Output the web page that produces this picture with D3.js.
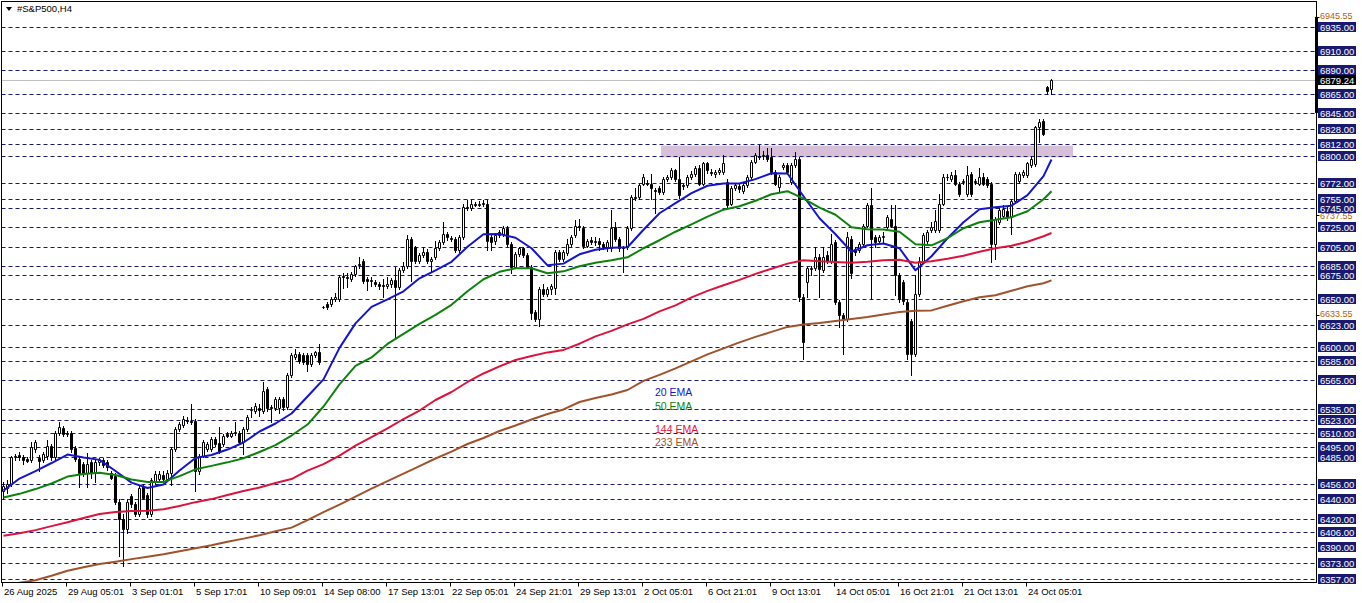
<!DOCTYPE html>
<html><head><meta charset="utf-8">
<script src="https://cdn.jsdelivr.net/npm/d3@7"></script>
<style>html,body{margin:0;padding:0;background:#fff;}svg{display:block;font-family:"Liberation Sans",Arial,sans-serif;}</style>
</head><body><svg id="c" width="1362" height="603"></svg>
<script>
// ---------- DATA ----------
const title = "#S&P500,H4";
const opens = [6449,6452,6456,6484,6487,6485,6482,6481,6493,6483,6481,6486,6496,6484,6510,6515,6509,6510,6494,6482,6477,6468,6479,6468,6479,6481,6479,6468,6465,6437,6420,6409,6444,6435,6425,6454,6445,6425,6458,6461,6466,6461,6468,6493,6514,6518,6523,6522,6522,6470,6486,6493,6493,6503,6499,6498,6509,6507,6510,6510,6500,6514,6534,6533,6536,6533,6556,6537,6536,6536,6545,6537,6570,6589,6592,6591,6591,6582,6591,6594,6642,6645,6645,6650,6650,6674,6673,6671,6676,6686,6690,6671,6669,6668,6666,6665,6664,6666,6670,6663,6680,6685,6713,6704,6690,6696,6699,6690,6694,6703,6710,6718,6714,6713,6701,6715,6746,6745,6750,6749,6750,6750,6715,6711,6717,6718,6724,6708,6684,6697,6703,6696,6684,6636,6629,6661,6655,6661,6662,6699,6692,6698,6708,6717,6727,6724,6706,6712,6710,6711,6708,6705,6703,6725,6713,6704,6704,6724,6757,6757,6771,6772,6771,6764,6766,6762,6776,6778,6785,6776,6769,6769,6778,6781,6787,6771,6792,6783,6781,6783,6783,6773,6750,6766,6768,6763,6769,6778,6794,6800,6800,6801,6799,6783,6767,6788,6790,6773,6790,6797,6652,6668,6681,6683,6694,6680,6696,6690,6710,6647,6633,6629,6713,6702,6701,6708,6727,6749,6715,6711,6715,6725,6734,6727,6675,6668,6647,6627,6592,6655,6690,6711,6722,6722,6722,6750,6778,6776,6780,6771,6773,6760,6781,6774,6771,6778,6776,6771,6708,6731,6737,6742,6736,6753,6774,6780,6780,6790,6791,6830,6836,6872,6870];
const highs = [6458,6460,6486,6488,6490,6487,6484,6500,6502,6487,6490,6502,6498,6512,6521,6517,6512,6512,6496,6484,6479,6489,6481,6481,6483,6483,6481,6470,6468,6440,6425,6440,6446,6437,6455,6456,6447,6462,6470,6470,6470,6471,6495,6516,6521,6527,6526,6540,6524,6488,6502,6500,6505,6505,6516,6509,6511,6512,6521,6512,6516,6528,6537,6541,6540,6563,6558,6539,6547,6547,6547,6572,6593,6598,6594,6593,6593,6593,6596,6603,6643,6647,6652,6656,6675,6677,6677,6678,6686,6694,6692,6673,6673,6670,6668,6671,6673,6672,6684,6682,6689,6717,6715,6706,6698,6704,6702,6694,6711,6712,6731,6720,6716,6715,6717,6750,6754,6754,6752,6753,6754,6754,6717,6719,6722,6727,6727,6710,6699,6705,6705,6698,6686,6638,6663,6666,6663,6666,6701,6701,6701,6713,6717,6733,6734,6727,6713,6715,6715,6714,6710,6712,6743,6731,6715,6706,6726,6759,6766,6771,6781,6775,6781,6766,6768,6778,6780,6787,6786,6799,6771,6780,6784,6789,6790,6794,6794,6786,6785,6787,6801,6776,6768,6771,6771,6772,6780,6796,6803,6811,6805,6808,6808,6785,6780,6792,6792,6792,6804,6799,6655,6684,6685,6704,6697,6704,6700,6718,6712,6649,6635,6720,6716,6704,6710,6729,6751,6766,6717,6717,6720,6738,6748,6748,6677,6670,6649,6629,6675,6694,6719,6722,6731,6743,6760,6781,6781,6783,6785,6773,6776,6789,6783,6776,6787,6782,6778,6773,6736,6745,6748,6746,6755,6783,6783,6785,6794,6800,6831,6839,6839,6873,6881];
const lows = [6440,6447,6454,6481,6481,6477,6479,6479,6490,6470,6479,6482,6481,6482,6508,6507,6506,6490,6480,6453,6465,6453,6463,6458,6476,6474,6471,6461,6435,6381,6370,6405,6432,6423,6423,6440,6422,6423,6456,6459,6459,6459,6455,6491,6512,6516,6520,6519,6449,6467,6484,6491,6491,6496,6489,6496,6505,6505,6508,6498,6488,6512,6526,6531,6527,6531,6533,6521,6534,6531,6534,6535,6568,6587,6583,6582,6575,6580,6589,6582,6641,6640,6643,6648,6648,6662,6663,6669,6674,6683,6667,6659,6664,6664,6661,6652,6662,6663,6609,6661,6678,6683,6669,6688,6688,6694,6688,6678,6692,6701,6708,6712,6711,6699,6699,6713,6743,6743,6747,6747,6747,6701,6701,6708,6715,6716,6706,6677,6682,6695,6694,6682,6629,6627,6622,6653,6653,6655,6655,6690,6690,6696,6706,6715,6722,6703,6704,6708,6707,6701,6702,6700,6700,6711,6700,6678,6702,6722,6754,6755,6769,6769,6755,6740,6760,6760,6774,6776,6774,6756,6765,6767,6776,6779,6769,6769,6782,6780,6778,6781,6781,6746,6748,6764,6762,6761,6767,6776,6792,6797,6797,6795,6781,6769,6762,6786,6781,6771,6788,6648,6587,6652,6675,6680,6652,6678,6688,6688,6645,6621,6592,6627,6672,6696,6699,6706,6725,6650,6705,6709,6710,6722,6725,6654,6647,6645,6587,6570,6590,6653,6688,6709,6720,6720,6720,6748,6775,6774,6769,6758,6770,6758,6758,6771,6769,6769,6767,6689,6692,6729,6735,6733,6718,6751,6772,6778,6778,6788,6789,6814,6822,6865,6865];
const closes = [6454,6456,6484,6486,6484,6481,6480,6495,6500,6480,6488,6496,6484,6510,6516,6509,6510,6493,6482,6468,6468,6477,6468,6479,6481,6476,6474,6463,6437,6420,6409,6437,6435,6425,6452,6442,6425,6460,6467,6467,6461,6468,6493,6514,6519,6524,6522,6521,6470,6486,6500,6498,6503,6498,6491,6507,6507,6510,6511,6500,6514,6526,6535,6538,6534,6554,6536,6536,6545,6545,6537,6570,6591,6592,6585,6584,6582,6591,6594,6584,6642,6642,6650,6652,6673,6673,6672,6676,6685,6687,6669,6669,6670,6666,6664,6664,6666,6670,6663,6680,6685,6713,6690,6690,6696,6699,6690,6692,6703,6710,6718,6715,6713,6701,6715,6746,6745,6750,6749,6750,6751,6711,6710,6717,6720,6724,6708,6684,6697,6703,6696,6684,6635,6629,6661,6655,6661,6664,6699,6692,6699,6708,6715,6727,6725,6706,6711,6710,6711,6708,6705,6710,6724,6713,6703,6703,6724,6757,6756,6769,6778,6771,6766,6763,6762,6776,6778,6785,6776,6759,6768,6778,6781,6787,6771,6792,6785,6782,6783,6785,6792,6748,6766,6769,6765,6769,6778,6794,6801,6799,6801,6797,6783,6771,6778,6790,6783,6790,6797,6652,6605,6682,6683,6694,6681,6694,6690,6708,6647,6633,6629,6715,6677,6699,6708,6727,6749,6713,6710,6715,6716,6736,6727,6675,6650,6648,6592,6592,6655,6690,6717,6720,6725,6732,6750,6778,6778,6780,6771,6760,6774,6780,6760,6773,6778,6771,6769,6708,6734,6743,6744,6736,6753,6781,6781,6783,6792,6797,6830,6835,6823,6868,6879.24];
// EMA values read every 4th bar (bars 0,4,...,260) plus the last bar 262
const ema20 = [6449.3,6461.9,6469.8,6478.2,6487.1,6483.9,6481.5,6469.8,6457.7,6452.1,6455.6,6470.3,6483.4,6486.6,6492.3,6499.7,6511.2,6519.6,6530.1,6547.9,6565.8,6598.8,6624.5,6641.8,6649.7,6658.1,6671.7,6680.1,6689,6704.7,6717.9,6718.2,6714.2,6703.2,6685.3,6687.1,6696.9,6701.6,6703.7,6704.2,6722.6,6739.9,6750.4,6760.9,6768.7,6771,6771,6775.6,6781.8,6781.5,6757.7,6734.6,6717.9,6699.5,6706.3,6708.1,6703.2,6680.1,6694.8,6713.7,6730.4,6744.1,6746.2,6747.8,6758.8,6778.7,6796.2];
const ema50 = [6442,6445.9,6450.9,6456.7,6464,6466.6,6467.9,6465.6,6460.9,6458.4,6458.4,6464.5,6471.6,6475.2,6478.9,6483.2,6489.7,6497,6507,6518.5,6537.4,6560.5,6579.9,6588.8,6603,6613.5,6624,6633.4,6643.9,6658.1,6670.7,6678.5,6682.2,6682.2,6677,6679,6684.3,6688,6690.6,6693.7,6703.2,6711.6,6720.5,6728.3,6736.4,6743.6,6747.2,6753,6759.8,6763,6755.1,6745.7,6738.3,6725.2,6723.1,6722.8,6720.5,6707.4,6706.3,6713.7,6724.2,6730.4,6733.1,6735.7,6742,6754.6,6763];
const ema144 = [6402.1,6404.7,6407.9,6412.1,6416.1,6420.5,6424.7,6427,6427.8,6428.3,6429.8,6433.1,6437.2,6440.4,6444.6,6448.8,6452.5,6457.2,6461.4,6470.3,6477.1,6486,6496.5,6505.4,6514.4,6524.3,6533.2,6544.2,6552.6,6563.1,6572,6579.4,6586.2,6590.4,6594.1,6596.7,6603.2,6610.9,6616.6,6623.4,6629.2,6637.1,6643.4,6651.8,6658.6,6664.4,6670.1,6676.4,6681.7,6687.1,6690.6,6689.5,6688.8,6688,6689,6690.6,6691.1,6688,6689.5,6692.2,6695.3,6699.5,6703.2,6705.8,6710,6715.8,6719.2];
const ema233 = [6349.7,6352.8,6355.4,6360.1,6365.4,6369.1,6372.4,6374.8,6377.5,6380.1,6382.7,6385.8,6389,6392.1,6395.8,6399,6402.6,6406.8,6410.5,6418.4,6426.8,6434.6,6443,6451.4,6459.3,6467.1,6475,6482.9,6490.2,6498.1,6504.4,6511.7,6517.5,6523.8,6529.6,6534.3,6542.1,6546.3,6550,6554.7,6564.2,6570.5,6577.3,6584.6,6592,6598.3,6604.6,6610.3,6615.6,6620.8,6623.4,6625,6627.1,6629,6631.1,6633.9,6636.4,6637.6,6638.1,6642.9,6647.6,6651.8,6653.9,6658.6,6663.3,6666.5,6669.6];
const emaNames = ["20 EMA","50 EMA","144 EMA","233 EMA"];
const levelPrices = [6935,6910,6890,6865,6845,6828,6812,6800,6772,6755,6745,6725,6705,6685,6675,6650,6623,6600,6585,6565,6535,6523,6510,6495,6485,6456,6440,6420,6406,6390,6373,6357];
const scalePrices = [6945.55,6737.55,6633.55];
const timeLabels = ["26 Aug 2025","29 Aug 05:01","3 Sep 01:01","5 Sep 17:01","10 Sep 09:01","14 Sep 08:00","17 Sep 13:01","22 Sep 05:01","24 Sep 21:01","29 Sep 13:01","2 Oct 05:01","6 Oct 21:01","9 Oct 13:01","14 Oct 05:01","16 Oct 21:01","21 Oct 13:01","24 Oct 05:01"];
const timeLabelBars = [0,16,32,48,64,80,96,112,128,144,160,176,192,208,224,240,256];
const lastPrice = 6879.24;
const zonePrices = [6798.5,6810.7];
const zoneBars = [164.4,267.4];
const rangeMarker = [6845,6945.55];

// ---------- LAYOUT ----------
const N = opens.length;
const L = 1.5, R = 1316.5, T = 1.5, B = 582.5;
const svg = d3.select("#c");
const y = d3.scaleLinear().domain([6357,6935]).range([578.7,27]);
const xb = d3.scaleBand().domain(d3.range(N)).range([1.5, 1.5 + 4*N]);
const cx = i => xb(i) + xb.bandwidth()/2;
const xi = d3.scaleLinear().domain([0, N-1]).range([cx(0), cx(N-1)]);
const emaBars = d3.range(0, N-1, 4).concat([N-1]);
const colors = {ema:["#1414cc","#0c820c","#dc143c","#a0522d"], level:"#191970"};
const rnd = v => Math.round(v) + 0.5;

svg.append("defs").append("clipPath").attr("id","clip")
  .append("rect").attr("x",L).attr("y",T).attr("width",R-L).attr("height",B-T);
const plot = svg.append("g").attr("clip-path","url(#clip)");

// zone rectangle (background)
plot.append("rect")
  .attr("x", xi(zoneBars[0])).attr("width", xi(zoneBars[1]) - xi(zoneBars[0]))
  .attr("y", y(zonePrices[1])).attr("height", y(zonePrices[0]) - y(zonePrices[1]))
  .attr("fill","#d8bfd8");

// dashed level lines
plot.selectAll("line.lvl").data(levelPrices).join("line").attr("class","lvl")
  .attr("x1",L).attr("x2",R).attr("y1",d=>rnd(y(d))).attr("y2",d=>rnd(y(d)))
  .attr("stroke",colors.level).attr("stroke-width",1).attr("stroke-dasharray","4,3");

// bid line
plot.append("line").attr("x1",L).attr("x2",R).attr("y1",rnd(y(lastPrice))).attr("y2",rnd(y(lastPrice)))
  .attr("stroke","#c0c0c0").attr("stroke-width",1);

// candles
const idx = d3.range(N);
plot.selectAll("line.wick").data(idx).join("line").attr("class","wick")
  .attr("x1",i=>cx(i)).attr("x2",i=>cx(i))
  .attr("y1",i=>Math.round(y(highs[i]))).attr("y2",i=>Math.round(y(lows[i]))+1)
  .attr("stroke","#000").attr("stroke-width",1);
plot.selectAll("path.body").data(idx).join("path").attr("class","body")
  .attr("d",i=>{
    const t = rnd(y(Math.max(opens[i],closes[i]))), b = rnd(y(Math.min(opens[i],closes[i])));
    const x0 = cx(i)-1, x1 = cx(i)+1;
    return `M${x0},${t}H${x1}V${b}H${x0}Z`;
  })
  .attr("fill",i=>closes[i]>=opens[i]?"#fff":"#000")
  .attr("stroke","#000").attr("stroke-width",1);

// EMA lines
[ema20,ema50,ema144,ema233].forEach((arr,k)=>{
  const line = d3.line().x((d,j)=>cx(emaBars[j])).y(d=>y(d));
  plot.append("path").attr("d",line(arr)).attr("fill","none")
    .attr("stroke",colors.ema[k]).attr("stroke-width",2).attr("stroke-linejoin","round");
});

// legend texts
const legendBase = [396,410,433,446];
svg.selectAll("text.leg").data(emaNames).join("text").attr("class","leg")
  .attr("x",655).attr("y",(d,k)=>legendBase[k]).attr("font-size","10.5px")
  .attr("fill",(d,k)=>colors.ema[k]).text(d=>d);

// frame
svg.append("rect").attr("x",L).attr("y",T).attr("width",R-L).attr("height",B-T)
  .attr("fill","none").attr("stroke","#000").attr("stroke-width",1);

// title
svg.append("path").attr("d","M6,7L12,7L9,11Z").attr("fill","#000");
svg.append("text").attr("x",17).attr("y",12).attr("font-size","9.5px").attr("fill","#000").text(title);

// time axis
const tg = svg.append("g");
tg.selectAll("line").data(timeLabelBars).join("line")
  .attr("x1",i=>Math.round(xb(i))+0.5).attr("x2",i=>Math.round(xb(i))+0.5)
  .attr("y1",B).attr("y2",B+4).attr("stroke","#000");
tg.selectAll("text").data(timeLabelBars).join("text")
  .attr("x",i=>Math.round(xb(i))+2).attr("y",594.5).attr("font-size","9.5px").attr("fill","#000")
  .text((d,k)=>timeLabels[k]);

// price axis: native scale labels, nudged clear of the level-label texts
const LV_FS = 9.5, SC_FS = 9;
const scaleBaseline = p => {
  let b = y(p) + 3.5;
  levelPrices.forEach(l => {
    const lb = Math.round(y(l)) + 3.5, lt = lb - 0.92*LV_FS, lbot = lb + 0.22*LV_FS;
    const st = b - 0.92*SC_FS, sbot = b + 0.22*SC_FS;
    if (st < lbot && sbot > lt) {
      if (y(l) < y(p)) b = lbot + 0.92*SC_FS + 0.3; else b = lt - 0.22*SC_FS - 0.3;
    }
  });
  return b;
};
const pg = svg.append("g");
pg.selectAll("line.sc").data(scalePrices).join("line").attr("class","sc")
  .attr("x1",R).attr("x2",R+3).attr("y1",d=>rnd(y(d))).attr("y2",d=>rnd(y(d))).attr("stroke","#000");
pg.selectAll("text.sc").data(scalePrices).join("text").attr("class","sc")
  .attr("x",1320).attr("y",d=>scaleBaseline(d)).attr("font-size",SC_FS+"px").attr("fill","#b8600a")
  .text(d=>d.toFixed(2));
// range marker on the scale
pg.append("rect").attr("x",1315).attr("width",3)
  .attr("y",y(rangeMarker[1])).attr("height",y(rangeMarker[0])-y(rangeMarker[1])).attr("fill","#000");
// level labels
const lg = pg.selectAll("g.lv").data(levelPrices).join("g").attr("class","lv");
lg.append("rect").attr("x",1318).attr("width",38).attr("y",d=>Math.round(y(d))-5).attr("height",10)
  .attr("fill",colors.level);
lg.append("text").attr("x",1320).attr("y",d=>Math.round(y(d))+3.5).attr("font-size",LV_FS+"px")
  .attr("fill","#fff").text(d=>d.toFixed(2));
// last price
pg.append("rect").attr("x",1318).attr("width",38).attr("y",Math.round(y(lastPrice))-5).attr("height",10).attr("fill","#000");
pg.append("text").attr("x",1320).attr("y",Math.round(y(lastPrice))+3.5).attr("font-size",LV_FS+"px")
  .attr("fill","#fff").text(lastPrice.toFixed(2));
</script>
</body></html>
